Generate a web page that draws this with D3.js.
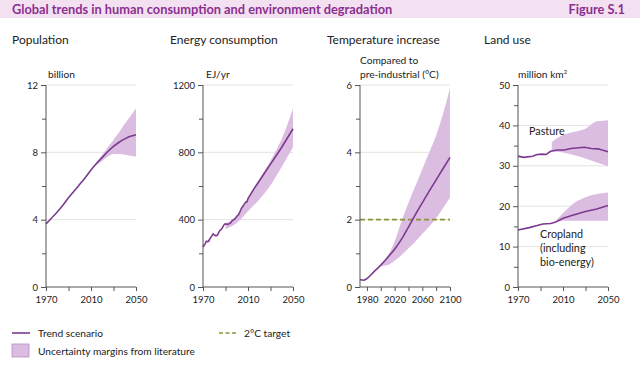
<!DOCTYPE html>
<html>
<head>
<meta charset="utf-8">
<script src="https://cdn.jsdelivr.net/npm/d3@7"></script>
<style>
  body { margin: 0; background: #fff; }
  text { font-family: Lato, "Open Sans", sans-serif; fill: #222; }
</style>
</head>
<body>
<script>
// population (billion)
const popYears = [1970,1975,1980,1985,1990,1995,2000,2005,2010,2015,2020,2025,2030,2035,2040,2045,2050]
const popTrend = [3.75,4.1,4.45,4.85,5.3,5.7,6.1,6.5,6.95,7.35,7.7,8.05,8.35,8.6,8.8,8.95,9.05]
const popBandYears = [2013,2020,2025,2030,2035,2040,2045,2050]
const popLow = [7.15,7.5,7.75,7.9,7.9,7.85,7.8,7.75]
const popHigh = [7.2,7.85,8.3,8.75,9.2,9.7,10.15,10.6]

// energy consumption (EJ/yr)
const energyYears = [1970,1971,1972,1973,1974,1975,1976,1977,1978,1979,1980,1981,1982,1983,1984,1985,1986,1987,1988,1989,1990,1991,1992,1993,1994,1995,1996,1997,1998,1999,2000,2001,2002,2003,2004,2005,2006,2007,2008,2009,2010,2015,2020,2025,2030,2035,2040,2045,2050]
const energyTrend = [238,248,258,272,270,272,285,295,305,315,310,305,305,310,325,335,340,350,362,372,375,373,372,375,378,385,395,400,402,410,420,425,435,450,465,475,485,495,505,505,525,580,630,680,730,780,830,885,940]
const energyBandYears = [1990,2000,2010,2020,2030,2040,2050]
const energyLow = [345,380,450,520,605,715,830]
const energyHigh = [380,420,525,640,750,880,1060]

// temperature increase compared to pre-industrial (°C)
const tempYears = [1970,1975,1980,1990,2000,2010,2020,2030,2040,2050,2060,2070,2080,2090,2100]
const tempTrend = [0.22,0.2,0.25,0.45,0.65,0.88,1.12,1.42,1.78,2.15,2.5,2.85,3.18,3.52,3.85]
const tempBandYears = [2000,2010,2020,2030,2040,2050,2060,2070,2080,2090,2100]
const tempLow = [0.62,0.65,0.78,0.95,1.15,1.35,1.58,1.8,2.05,2.35,2.65]
const tempHigh = [0.68,0.92,1.35,1.95,2.5,3.0,3.5,4.0,4.5,5.15,5.9]
const tempTarget = 2

// land use (million km2)
const pastureYears = [1970,1975,1983,1987,1992,1995,1999,2005,2011,2017,2029,2035,2041,2050]
const pastureTrend = [32.4,32.1,32.35,32.8,32.9,32.8,33.6,33.9,33.9,34.3,34.6,34.3,34.2,33.5]
const pastureBandYears = [2000,2010,2020,2030,2040,2050]
const pastureLow = [33.6,33.3,32.6,31.8,30.8,29.9]
const pastureHigh = [35.9,37.6,38.4,39.2,41.0,41.3]
const cropYears = [1970,1980,1987,1992,1999,2003,2010,2020,2030,2040,2050]
const cropTrend = [14.1,14.7,15.2,15.6,15.7,16.0,17.0,17.9,18.7,19.3,20.2]
const cropBandYears = [2002,2010,2020,2030,2040,2050]
const cropLow = [15.8,16.4,16.4,16.4,16.4,16.4]
const cropHigh = [15.9,18.3,20.8,22.2,23.0,23.4]

const lineColor = "#7b3a8e"
const bandColor = "#dcbde2"
const axisColor = "#555"
const gridColor = "#e2e2e2"

const svg = d3.select("body").append("svg")
  .attr("width", 640).attr("height", 368)

// title bar
svg.append("rect").attr("x", 0).attr("y", 0).attr("width", 640).attr("height", 18).attr("fill", "#f3e1f2")
svg.append("text").attr("x", 12).attr("y", 14)
  .style("font-size", "12.8px").style("font-weight", "bold").style("fill", "#8c2f8f")
  .text("Global trends in human consumption and environment degradation")
svg.append("text").attr("x", 625).attr("y", 14).attr("text-anchor", "end")
  .style("font-size", "12.8px").style("font-weight", "bold").style("fill", "#8c2f8f")
  .text("Figure S.1")

const y0 = 287, y1 = 85

function panel(opt) {
  const g = svg.append("g")
  const x = d3.scaleLinear().domain(opt.xDomain).range([opt.left, opt.left + 90])
  const y = d3.scaleLinear().domain(opt.yDomain).range([y0, y1])

  g.append("text").attr("x", opt.titleX).attr("y", 44).style("font-size", "12px").text(opt.title)
  opt.unit.forEach((u, i) => {
    g.append("text").attr("x", opt.unitX).attr("y", 78 - (opt.unit.length - 1 - i) * 14)
      .style("font-size", "10.2px").html(u)
  })

  // gridlines
  g.selectAll(".grid").data(opt.yMajor.filter(d => d > 0)).enter().append("line")
    .attr("x1", opt.left).attr("x2", opt.left + 90)
    .attr("y1", d => y(d)).attr("y2", d => y(d))
    .attr("stroke", gridColor).attr("stroke-width", 1)

  // bands
  const area = d3.area().x(d => x(d[0])).y0(d => y(d[1])).y1(d => y(d[2])).curve(d3.curveMonotoneX)
  opt.bands.forEach(b => {
    g.append("path").datum(b[0].map((yr, i) => [yr, b[1][i], b[2][i]]))
      .attr("d", area).attr("fill", bandColor)
  })

  if (opt.target !== undefined) {
    g.append("line").attr("x1", x(opt.xDomain[0])).attr("x2", x(opt.xDomain[1]))
      .attr("y1", y(opt.target)).attr("y2", y(opt.target))
      .attr("stroke", "#8a9438").attr("stroke-width", 1.6).attr("stroke-dasharray", "5,3")
  }

  // trend lines
  opt.lines.forEach(l => {
    const line = d3.line().x(d => x(d[0])).y(d => y(d[1])).curve(l[2] || d3.curveMonotoneX)
    g.append("path").datum(l[0].map((yr, i) => [yr, l[1][i]]))
      .attr("d", line).attr("fill", "none").attr("stroke", lineColor).attr("stroke-width", 1.6)
  })

  // axes
  const yMinor = g.append("g").attr("transform", `translate(${opt.left},0)`)
    .call(d3.axisLeft(y).tickValues(opt.yMinor).tickSize(4).tickFormat(""))
  const yAxis = g.append("g").attr("transform", `translate(${opt.left},0)`)
    .call(d3.axisLeft(y).tickValues(opt.yMajor).tickSize(5).tickPadding(3).tickFormat(d3.format("d")))
  const xMinor = g.append("g").attr("transform", `translate(0,${y0})`)
    .call(d3.axisBottom(x).tickValues(opt.xMinor).tickSize(4).tickFormat(""))
  const xAxis = g.append("g").attr("transform", `translate(0,${y0})`)
    .call(d3.axisBottom(x).tickValues(opt.xMajor).tickSize(4).tickPadding(5).tickFormat(d3.format("d")))
  ;[yMinor, yAxis, xMinor, xAxis].forEach(a => {
    a.selectAll("path,line").attr("stroke", axisColor)
    a.selectAll("text").style("font-size", "9.5px").style("font-family", "Lato, sans-serif").attr("fill", "#222")
  })
  yAxis.select(".domain").attr("d", `M0,${y0}V${y1}`)
  yMinor.select(".domain").remove()
  xMinor.select(".domain").remove()
  xAxis.select(".domain").attr("d", `M${opt.left},0H${opt.left + 90}`)
  return { g, x, y }
}

panel({
  title: "Population", titleX: 12, unit: ["billion"], unitX: 48, left: 46,
  xDomain: [1970, 2050], yDomain: [0, 12],
  yMajor: [0, 4, 8, 12], yMinor: [2, 6, 10],
  xMajor: [1970, 2010, 2050], xMinor: [1990, 2030],
  bands: [[popBandYears, popLow, popHigh]],
  lines: [[popYears, popTrend]]
})

panel({
  title: "Energy consumption", titleX: 170, unit: ["EJ/yr"], unitX: 206, left: 203,
  xDomain: [1970, 2050], yDomain: [0, 1200],
  yMajor: [0, 400, 800, 1200], yMinor: [200, 600, 1000],
  xMajor: [1970, 2010, 2050], xMinor: [1990, 2030],
  bands: [[energyBandYears, energyLow, energyHigh]],
  lines: [[energyYears, energyTrend, d3.curveLinear]]
})

panel({
  title: "Temperature increase", titleX: 327, unit: ["Compared to", "pre-industrial (°C)"], unitX: 360, left: 360,
  xDomain: [1970, 2100], yDomain: [0, 6],
  yMajor: [0, 2, 4, 6], yMinor: [1, 3, 5],
  xMajor: [1980, 2020, 2060, 2100], xMinor: [2000, 2040, 2080],
  bands: [[tempBandYears, tempLow, tempHigh]],
  target: tempTarget,
  lines: [[tempYears, tempTrend]]
})

const land = panel({
  title: "Land use", titleX: 484, unit: ["million km<tspan dy='-4' style='font-size:6px'>2</tspan>"], unitX: 518, left: 518,
  xDomain: [1970, 2050], yDomain: [0, 50],
  yMajor: [0, 10, 20, 30, 40, 50], yMinor: [5, 15, 25, 35, 45],
  xMajor: [1970, 2010, 2050], xMinor: [1990, 2030],
  bands: [[pastureBandYears, pastureLow, pastureHigh], [cropBandYears, cropLow, cropHigh]],
  lines: [[pastureYears, pastureTrend, d3.curveLinear], [cropYears, cropTrend, d3.curveLinear]]
})

land.g.append("text").attr("x", 529).attr("y", 135).style("font-size", "10.8px").text("Pasture")
;["Cropland", "(including", "bio-energy)"].forEach((t, i) => {
  land.g.append("text").attr("x", 540).attr("y", 238 + i * 14).style("font-size", "10.8px").text(t)
})

// legend
const leg = svg.append("g")
leg.append("line").attr("x1", 12).attr("x2", 30).attr("y1", 333).attr("y2", 333)
  .attr("stroke", lineColor).attr("stroke-width", 1.6)
leg.append("text").attr("x", 38).attr("y", 337).style("font-size", "10.2px").text("Trend scenario")
leg.append("rect").attr("x", 12).attr("y", 344).attr("width", 17).attr("height", 13)
  .attr("fill", bandColor).attr("stroke", "#b58fbe").attr("stroke-width", 0.8)
leg.append("text").attr("x", 38).attr("y", 355).style("font-size", "10.2px").text("Uncertainty margins from literature")
leg.append("line").attr("x1", 219).attr("x2", 236).attr("y1", 333).attr("y2", 333)
  .attr("stroke", "#8a9438").attr("stroke-width", 1.6).attr("stroke-dasharray", "4,2.5")
leg.append("text").attr("x", 244).attr("y", 337).style("font-size", "10.2px").text("2°C target")
</script>
</body>
</html>
